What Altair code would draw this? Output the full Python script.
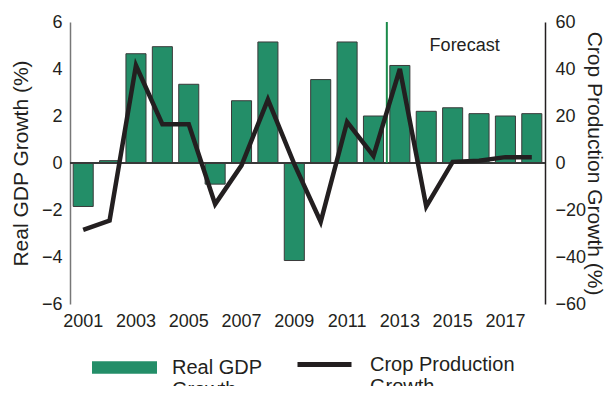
import altair as alt
import pandas as pd

years = list(range(2001, 2019))
gdp_growth = [-1.85, 0.1, 4.65, 4.95, 3.35, -0.9, 2.65, 5.15, -4.15, 3.55,
              5.15, 2.0, 4.15, 2.2, 2.35, 2.1, 2.0, 2.1]
crop_growth = [-28.5, -24.5, 41.5, 16.5, 16.5, -17.5, -1.0, 27.0, -0.5, -25.0,
               17.5, 3.0, 40.0, -18.5, 0.5, 1.0, 2.5, 2.5]
x_label_years = [2001, 2003, 2005, 2007, 2009, 2011, 2013, 2015, 2017]
gdp_ticks = [-6, -4, -2, 0, 2, 4, 6]
crop_ticks = [-60, -40, -20, 0, 20, 40, 60]
forecast_start = [2013]
forecast_label_year = [2015]
forecast_label_value = [5]

FONT = "Liberation Sans"
TXT = "#231f20"
GREEN = "#238e68"

df = pd.DataFrame({
    "year": years,
    "gdp": gdp_growth,
    "crop": crop_growth,
    "s1": "Real GDP Growth",
    "s2": "Crop Production Growth",
})

x_enc = alt.X(
    "year:O",
    scale=alt.Scale(paddingInner=0.24, paddingOuter=0.12),
    axis=alt.Axis(values=x_label_years, labelAngle=0, title=None, domain=False,
                  ticks=False, labelPadding=8, labelFontSize=18, labelColor=TXT,
                  labelFont=FONT),
)

gdp_scale = alt.Scale(domain=[-6, 6], nice=False)
gdp_axis = alt.Axis(
    title="Real GDP Growth (%)", values=gdp_ticks, grid=False, ticks=False,
    domainColor="#777777", domainWidth=1.5, labelFontSize=18, labelColor=TXT,
    labelFont=FONT, labelPadding=8, titleFontSize=21, titleFontWeight="normal",
    titleColor=TXT, titleFont=FONT, titlePadding=10,
)

bars = alt.Chart(df).mark_bar(stroke="#3a3a3a", strokeWidth=1).encode(
    x=x_enc,
    y=alt.Y("gdp:Q", scale=gdp_scale, axis=gdp_axis),
    fill=alt.Fill(
        "s1:N",
        scale=alt.Scale(range=[GREEN]),
        legend=alt.Legend(
            title=None, orient="none", legendX=22, legendY=319, padding=0,
            symbolType="M-1,-0.375L1,-0.375L1,0.005L-1,0.005Z", symbolSize=4225,
            symbolStrokeWidth=0, labelOffset=15, labelFontSize=20,
            labelFont=FONT, labelColor=TXT,
            labelBaseline="alphabetic", labelLimit=300,
            labelExpr="['Real GDP', 'Growth']",
        ),
    ),
)

zero = alt.Chart(df).mark_rule(color="#3a3a3a", strokeWidth=1.5).encode(
    y=alt.Y(datum=0, scale=gdp_scale, axis=gdp_axis)
)

fc_df = pd.DataFrame({"year": forecast_start, "top": [6], "bottom": [0]})
frule = alt.Chart(fc_df).mark_rule(color="#1a8a4a", strokeWidth=2).encode(
    x=alt.X("year:O", bandPosition=0),
    xOffset=alt.value(-3),
    y=alt.Y("top:Q", scale=gdp_scale, axis=gdp_axis),
    y2="bottom:Q",
)

ft_df = pd.DataFrame({"year": forecast_label_year, "v": forecast_label_value,
                      "t": ["Forecast"]})
ftext = alt.Chart(ft_df).mark_text(fontSize=18, font=FONT, color=TXT, dx=12).encode(
    x="year:O",
    y=alt.Y("v:Q", scale=gdp_scale, axis=gdp_axis),
    text="t:N",
)

inner = alt.layer(bars, zero, frule, ftext)

line = alt.Chart(df).mark_line(strokeWidth=4.5).encode(
    x=x_enc,
    y=alt.Y(
        "crop:Q",
        scale=alt.Scale(domain=[-60, 60], nice=False),
        axis=alt.Axis(
            orient="right", title="Crop Production Growth (%)", values=crop_ticks,
            grid=False, ticks=False, domainColor="#231f20", domainWidth=1.5,
            labelFontSize=18, labelColor=TXT, labelFont=FONT, labelPadding=10,
            titleFontSize=21, titleFontWeight="normal", titleColor=TXT,
            titleFont=FONT, titleAngle=90, titleBaseline="middle",
            titleX=48, titleY=141, titleAlign="center",
        ),
    ),
    stroke=alt.Stroke(
        "s2:N",
        scale=alt.Scale(range=["#231f20"]),
        legend=alt.Legend(
            title=None, orient="none", legendX=225, legendY=319, padding=0,
            symbolType="M-1,-0.22L1,-0.22", symbolSize=2916, symbolStrokeWidth=5,
            labelOffset=16, labelFontSize=20, labelFont=FONT, labelColor=TXT,
            labelBaseline="alphabetic", labelLimit=300,
            labelExpr="['Crop Production', 'Growth']",
        ),
    ),
)

chart = alt.layer(inner, line).resolve_scale(
    y="independent", fill="independent", stroke="independent"
).properties(
    width=475,
    height=282,
    autosize=alt.AutoSizeParams(type="none"),
    padding={"left": 62, "top": 14, "right": 60, "bottom": 82},
).configure_view(stroke=None)

chart.save("out.html", embed_options={"renderer": "svg", "actions": False})
